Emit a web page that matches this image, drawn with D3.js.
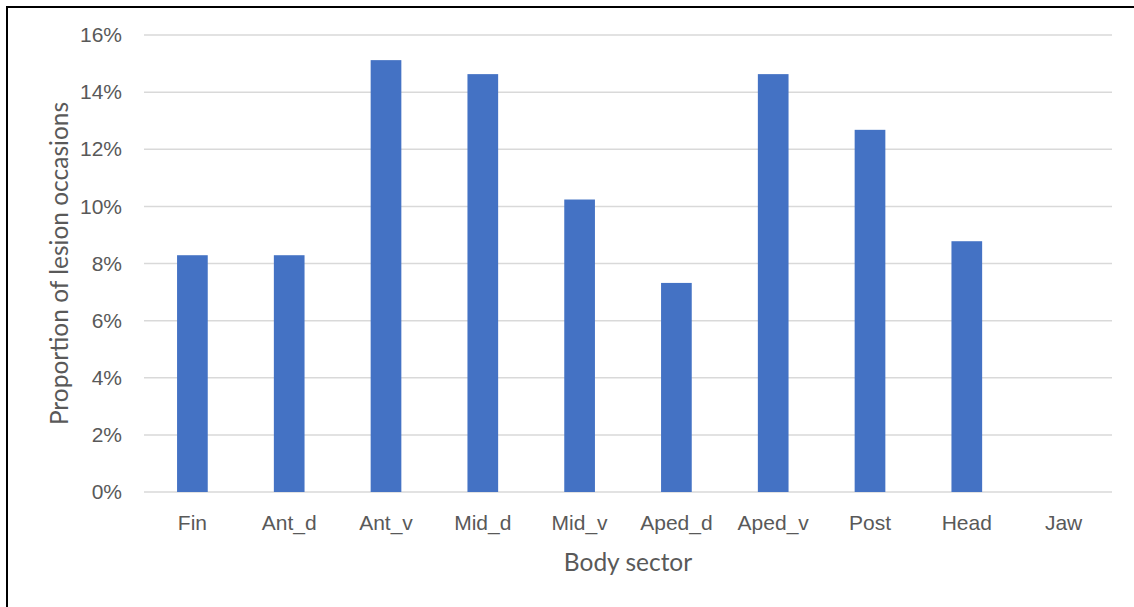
<!DOCTYPE html>
<html>
<head>
<meta charset="utf-8">
<script src="https://cdn.jsdelivr.net/npm/d3@7"></script>
<style>
  body { margin: 0; background: #fff; }
  svg { display: block; font-family: Lato, "Open Sans", sans-serif; }
  .tick text { fill: #595959; }
</style>
</head>
<body>
<div id="viz"></div>
<script>
const width = 1134;
const height = 607;
const margin = {top: 35, right: 22, bottom: 115, left: 144};
const color = '#4472c4';

// Data
const sectors = ['Fin', 'Ant_d', 'Ant_v', 'Mid_d', 'Mid_v', 'Aped_d', 'Aped_v', 'Post', 'Head', 'Jaw'];
const proportions = [8.29, 8.29, 15.12, 14.63, 10.24, 7.32, 14.63, 12.68, 8.78, 0];
const yTicks = [0, 2, 4, 6, 8, 10, 12, 14, 16];

const data = sectors.map((s, i) => ({sector: s, value: proportions[i]}));

const svg = d3.select('#viz')
  .append('svg')
    .attr('width', width)
    .attr('height', height);

// frame (only left and top edges are visible in the crop)
svg.append('path')
  .attr('d', `M7,${height + 5}V7H${width + 5}`)
  .attr('fill', 'none')
  .attr('stroke', '#000')
  .attr('stroke-width', 2);

const xScale = d3.scaleBand()
  .domain(sectors)
  .range([margin.left, width - margin.right])
  .paddingInner(0.683)
  .paddingOuter(0.683 / 2);

const yScale = d3.scaleLinear()
  .domain([0, 16])
  .range([height - margin.bottom, margin.top]);

// gridlines
svg.append('g')
    .attr('class', 'grid')
  .selectAll('line')
  .data(yTicks)
  .join('line')
    .attr('x1', margin.left)
    .attr('x2', width - margin.right)
    .attr('y1', d => yScale(d))
    .attr('y2', d => yScale(d))
    .attr('stroke', '#d9d9d9')
    .attr('stroke-width', 1.5);

// y axis
const yAxis = d3.axisLeft(yScale)
  .tickValues(yTicks)
  .tickFormat(d => d + '%')
  .tickSize(0)
  .tickPadding(22);
const yAxisGroup = svg.append('g')
    .attr('transform', `translate(${margin.left}, 0)`)
  .call(yAxis);
yAxisGroup.select('.domain').remove();
yAxisGroup.selectAll('text').style('font-size', '21px');

// bars
svg.append('g')
    .attr('class', 'bars-group')
    .attr('fill', color)
  .selectAll('rect')
  .data(data)
  .join('rect')
    .attr('x', d => xScale(d.sector))
    .attr('y', d => yScale(d.value))
    .attr('width', xScale.bandwidth())
    .attr('height', d => yScale(0) - yScale(d.value));

// x axis
const xAxis = d3.axisBottom(xScale)
  .tickSize(0)
  .tickPadding(23);
const xAxisGroup = svg.append('g')
    .attr('transform', `translate(0, ${height - margin.bottom})`)
  .call(xAxis);
xAxisGroup.select('.domain').remove();
xAxisGroup.selectAll('text').style('font-size', '21px');

// axis titles
svg.append('text')
  .attr('x', (margin.left + width - margin.right) / 2)
  .attr('y', 571)
  .attr('text-anchor', 'middle')
  .attr('fill', '#595959')
  .style('font-size', '24.5px')
  .text('Body sector');

svg.append('text')
  .attr('transform', `translate(68, ${(margin.top + height - margin.bottom) / 2}) rotate(-90)`)
  .attr('text-anchor', 'middle')
  .attr('fill', '#595959')
  .style('font-size', '24.5px')
  .text('Proportion of lesion occasions');
</script>
</body>
</html>
